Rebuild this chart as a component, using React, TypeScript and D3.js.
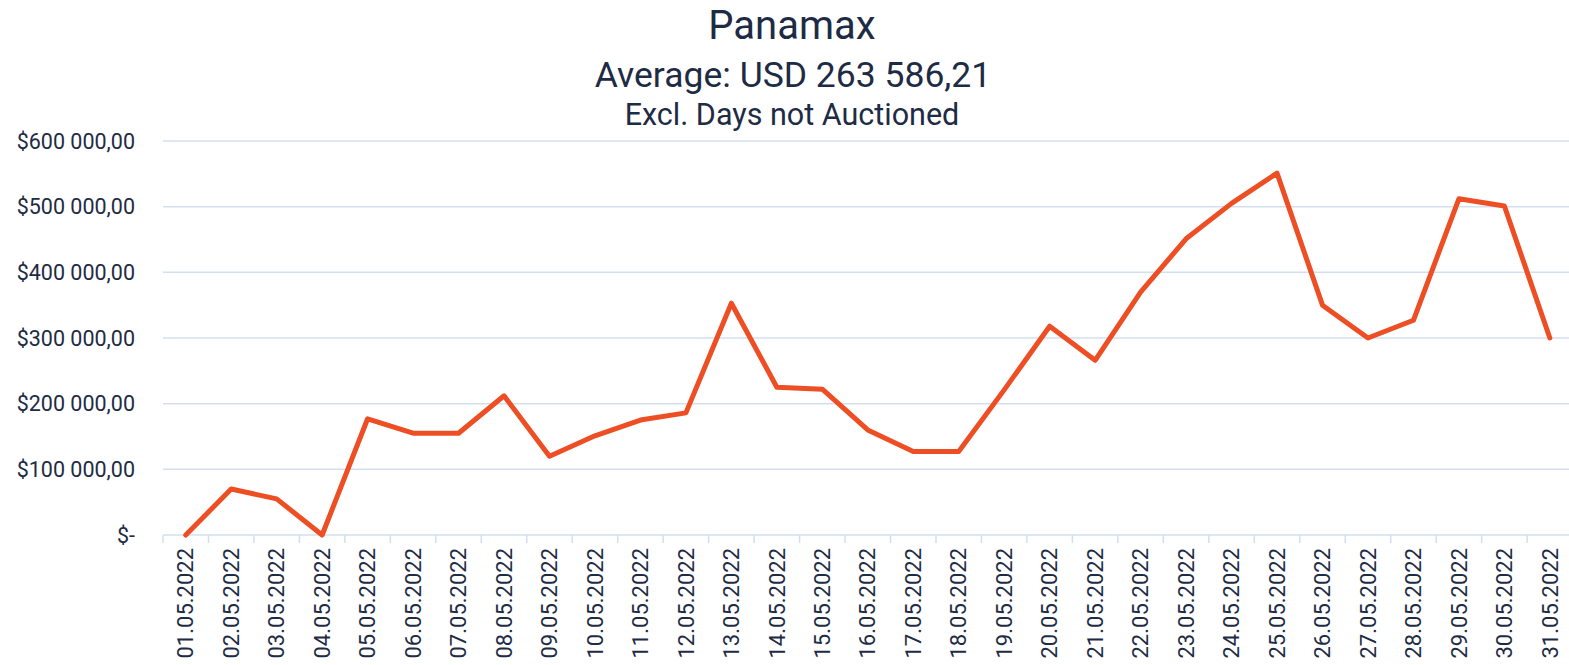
import React from "react";
import * as d3 from "d3";

const dates = [
  "01.05.2022","02.05.2022","03.05.2022","04.05.2022","05.05.2022","06.05.2022","07.05.2022","08.05.2022",
  "09.05.2022","10.05.2022","11.05.2022","12.05.2022","13.05.2022","14.05.2022","15.05.2022","16.05.2022",
  "17.05.2022","18.05.2022","19.05.2022","20.05.2022","21.05.2022","22.05.2022","23.05.2022","24.05.2022",
  "25.05.2022","26.05.2022","27.05.2022","28.05.2022","29.05.2022","30.05.2022","31.05.2022",
];
const values = [
  0, 70000, 55000, 0, 177000, 155000, 155000, 212000,
  120000, 151000, 175000, 186000, 353000, 225000, 222000, 160000,
  127000, 127000, 221000, 318000, 266000, 370000, 451000, 505000,
  551000, 350000, 300000, 327000, 512000, 501000, 300000,
];
const yTicks = [0, 100000, 200000, 300000, 400000, 500000, 600000];
const titleLines = ["Panamax", "Average: USD 263 586,21", "Excl. Days not Auctioned"];

const fmt = (v: number) => (v === 0 ? "$-" : "$" + d3.format(",.2f")(v).replace(/,/g, " ").replace(".", ","));

export default function App() {
  const W = 1569, H = 665;
  const left = 163;
  const step = 45.47;
  const x = d3.scaleBand<string>().domain(dates).range([left, left + step * dates.length]).padding(0);
  const y = d3.scaleLinear().domain([0, 600000]).range([535, 141]);
  const line = d3.line<number>().x((_, i) => x(dates[i])! + x.bandwidth() / 2).y((d) => y(d));
  const textColor = "#1e2b44";
  const gridColor = "#d3dff0";
  const font = "Roboto, 'Open Sans', sans-serif";
  return (
    <svg width={W} height={H} style={{ position: "absolute", left: 0, top: 0, background: "#fff" }}>
      <text x={792} y={39} textAnchor="middle" fontSize={40} fill={textColor} fontFamily={font}>{titleLines[0]}</text>
      <text x={793} y={87} textAnchor="middle" fontSize={35.5} fill={textColor} fontFamily={font}>{titleLines[1]}</text>
      <text x={792} y={125} textAnchor="middle" fontSize={30.5} fill={textColor} fontFamily={font}>{titleLines[2]}</text>
      {yTicks.map((t) => (
        <g key={t}>
          <line x1={left} x2={W} y1={y(t)} y2={y(t)} stroke={gridColor} strokeWidth={1.5} />
          <text x={135} y={y(t)} dy="0.35em" textAnchor="end" fontSize={21.5} fill={textColor} fontFamily={font}>{fmt(t)}</text>
        </g>
      ))}
      {dates.map((d) => (
        <line key={"t" + d} x1={x(d)!} x2={x(d)!} y1={535} y2={543} stroke={gridColor} strokeWidth={1.5} />
      ))}
      {dates.map((d) => {
        const cx = x(d)! + x.bandwidth() / 2;
        return (
          <text key={d} transform={`translate(${cx},548) rotate(-90)`} textAnchor="end" dy="0.35em" fontSize={22} fill={textColor} fontFamily={font}>{d}</text>
        );
      })}
      <path d={line(values)!} fill="none" stroke="#ee4e23" strokeWidth={5} strokeLinejoin="round" strokeLinecap="round" />
    </svg>
  );
}
